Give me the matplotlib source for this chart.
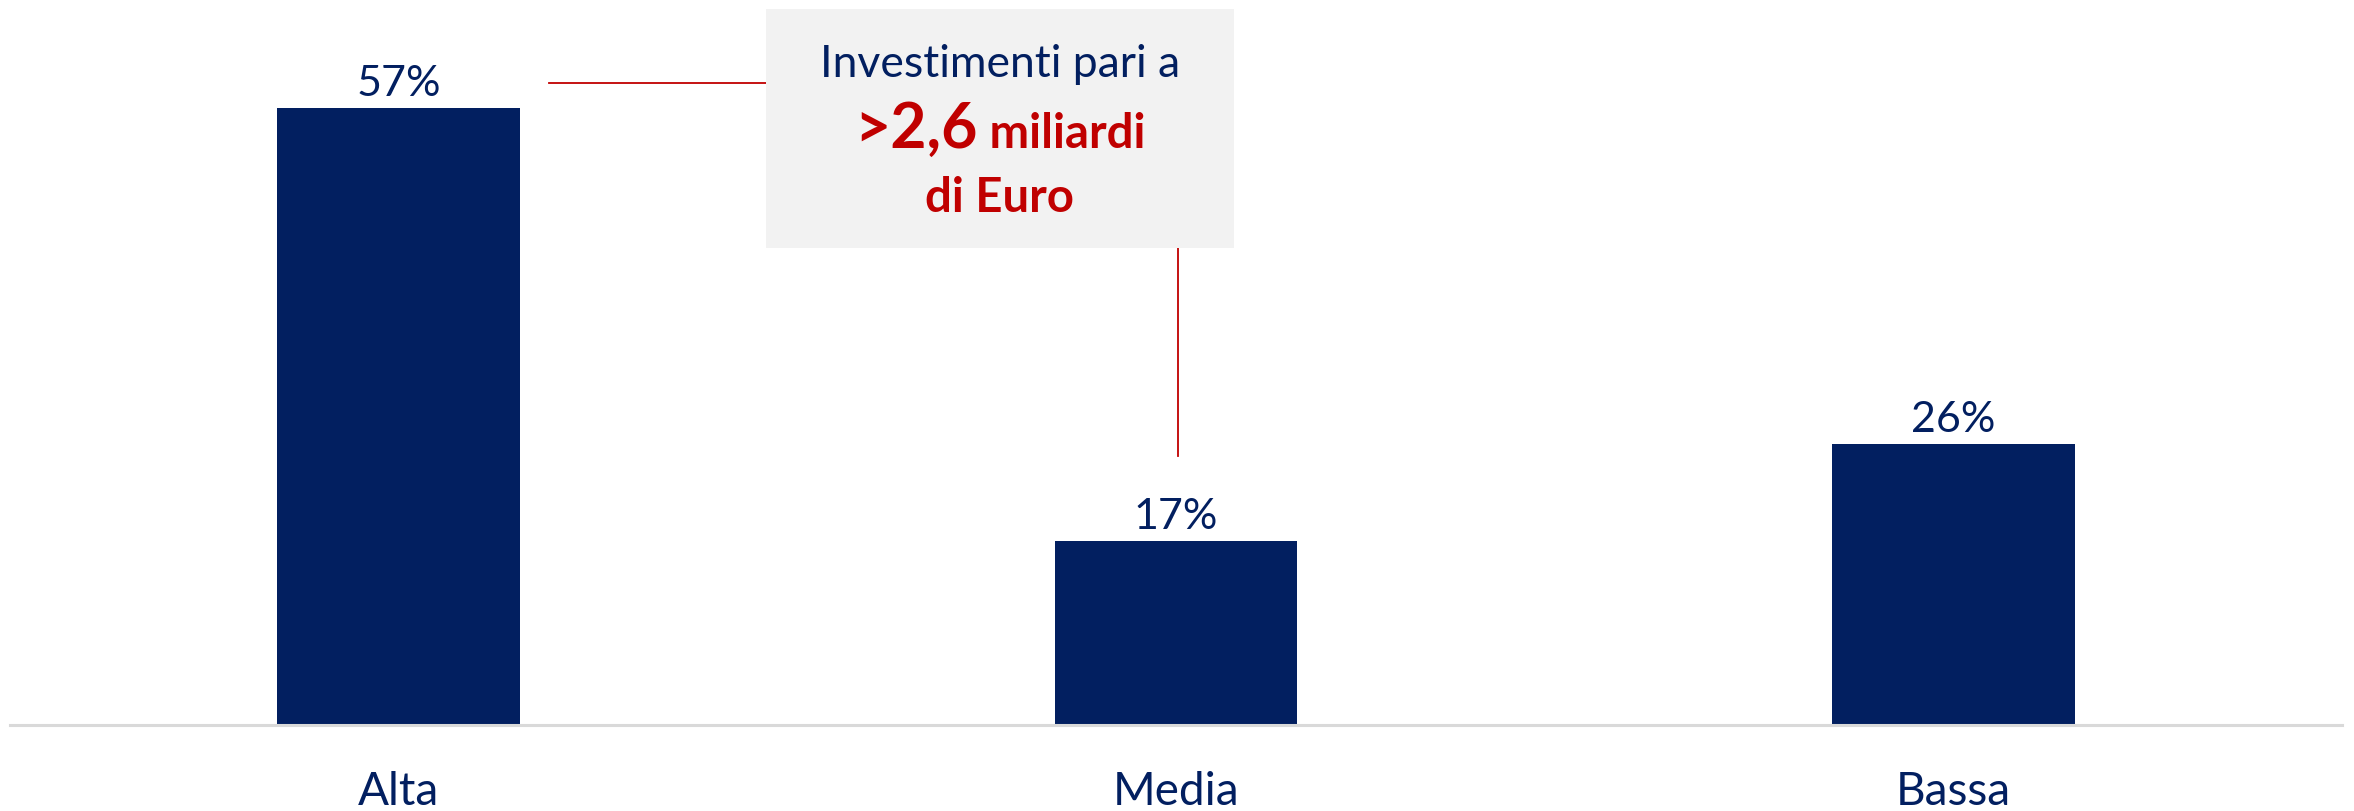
import matplotlib.pyplot as plt
from matplotlib.patches import Rectangle
from matplotlib.offsetbox import TextArea, HPacker, AnnotationBbox

plt.rcParams['font.family'] = ['Lato', 'DejaVu Sans']

categorie = ['Alta', 'Media', 'Bassa']
quote = [57, 17, 26]
etichette = ['57%', '17%', '26%']

navy = '#021F60'
rosso = '#C00000'

fig = plt.figure(figsize=(23.54, 8.11), dpi=100)
ax = fig.add_axes([10 / 2354, 86 / 811, 2332 / 2354, 725 / 811])

x = range(len(categorie))
bars = ax.bar(x, quote, width=0.3125, color=navy, zorder=2)

for b, lab in zip(bars, etichette):
    ax.annotate(lab, (b.get_x() + b.get_width() / 2, b.get_height()),
                xytext=(0, 3.5), textcoords='offset points',
                ha='center', va='bottom', fontsize=31, color=navy)

ax.set_xlim(-0.5, 2.5)
ax.set_ylim(0, 67)
ax.set_xticks(list(x))
ax.set_xticklabels(categorie, fontsize=33, color=navy)
ax.tick_params(axis='x', length=0, pad=33)
ax.set_yticks([])
for s in ['top', 'left', 'right']:
    ax.spines[s].set_visible(False)
ax.spines['bottom'].set_color('#D9D9D9')
ax.spines['bottom'].set_linewidth(2.2)

# riquadro con il totale degli investimenti
box_x0, box_x1 = 0.473, 1.074
box_y0, box_y1 = 44.1, 66.2
ax.add_patch(Rectangle((box_x0, box_y0), box_x1 - box_x0, box_y1 - box_y0,
                       facecolor='#F2F2F2', edgecolor='none', zorder=3, clip_on=False))
cx = (box_x0 + box_x1) / 2

ax.plot([0.193, box_x0], [59.3, 59.3], color=rosso, lw=1.3, zorder=2, clip_on=False)
ax.plot([1.002, 1.002], [box_y0, 24.9], color=rosso, lw=1.3, zorder=2, clip_on=False)

ax.text(cx, 59.9, 'Investimenti pari a', ha='center', va='baseline',
        fontsize=32, color=navy, zorder=4)

riga = HPacker(children=[
    TextArea('>2,6', textprops=dict(fontsize=45, fontweight='bold', color=rosso)),
    TextArea(' miliardi', textprops=dict(fontsize=34, fontweight='bold', color=rosso)),
], align='baseline', pad=0, sep=0)
ab = AnnotationBbox(riga, (cx, 55.0), xycoords='data', frameon=False,
                    box_alignment=(0.5, 0.5), zorder=4, annotation_clip=False)
ax.add_artist(ab)

ax.text(cx, 47.4, 'di Euro', ha='center', va='baseline',
        fontsize=34, fontweight='bold', color=rosso, zorder=4)

fig.savefig('out.png', dpi=100)
